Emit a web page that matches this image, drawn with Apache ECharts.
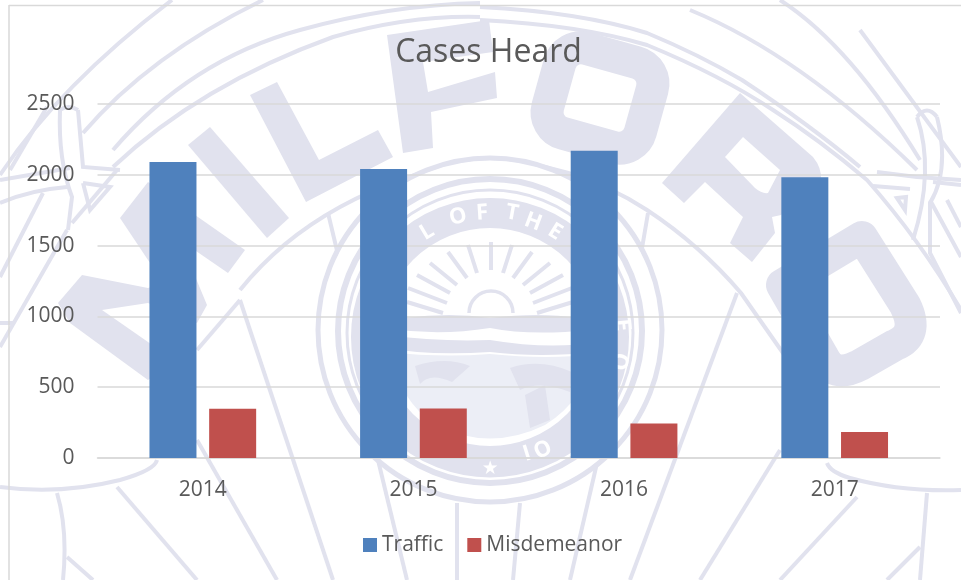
<!DOCTYPE html>
<html><head><meta charset="utf-8">
<style>html,body{margin:0;padding:0;background:#fff}#c{width:961px;height:580px}</style>
<script src="https://cdn.jsdelivr.net/npm/echarts@6/dist/echarts.min.js"></script>
</head><body><div id="c"></div>
<script>
const categories = ['2014','2015','2016','2017'];
const traffic = [2090,2041,2170,1982];
const misdemeanor = [348,350,244,184];
const yTicks = [0,500,1000,1500,2000,2500];

// Decorative watermark (badge behind the chart), not data
const WM = '#e1e2ee';
const wmLines = [
 // upper-left arcs
 'M0 175 Q60 85 172 0','M47 107 L10 170','M83 133 Q150 55 263 0','M113 150 Q190 60 300 30 Q390 5 480 3','M113 167 Q200 85 333 37 Q410 15 480 17',
 // upper-right arcs
 'M480 7 Q580 12 647 33 Q700 55 742 80 Q810 125 860 167','M480 20 Q580 25 647 45 Q720 75 773 110 Q820 140 867 180 Q920 240 961 310','M690 10 Q800 55 917 170','M780 0 Q850 45 920 160','M860 30 L961 167',
 // left knots
 'M60 110 Q58 160 72 197 L68 230','M78 110 L83 167 L120 170','M83 183 L110 187 L90 210 L83 183','M0 180 L70 168','M0 203 Q30 190 67 187','M43 193 L0 277','M67 230 L0 347','M117 170 L72 223','M60 110 Q68 104 78 110','M0 323 L15 323',
 // lower-left
 'M240 300 L333 580','M197 350 L240 300','M197 440 L277 580','M117 487 L197 580','M57 493 Q68 530 63 580','M67 557 L93 580','M378 460 L407 580','M457 503 L457 580',
 'M157 460 Q155 470 120 480 Q60 495 0 487',
 // inner arc over the seal
 'M240 290 Q320 190 480 158','M480 160 Q570 160 647 210 Q700 245 741 293 L797 373','M328 213 L340 263','M648 213 L640 260',
 // lower-right
 'M737 293 L630 580','M780 450 L700 580','M827 463 Q830 472 850 478 Q900 492 961 490','M857 497 L780 580','M927 493 L920 580','M920 547 L887 580','M597 463 L570 580','M520 503 L513 580',
 // right knot
 'M917 117 Q935 170 913 240','M937 117 Q950 170 930 203 L930 253 L961 313','M917 117 Q927 104 937 117','M877 172 L917 177 L961 180','M873 186 L910 189','M933 182 L961 185','M930 200 L961 257','M947 200 L961 227','M897 198 L906 197 L905 210 Z'
];
const wmLetters = [
 'M120 218 L148 182 L245 250 L228 273 L180 240 L207 305 L197 323 L148 303 L102 310 L148 342 L175 362 L148 380 L70 323 L58 303 L82 275 L148 288 L165 282 L148 260 Z',
 'M188 145 L210 127 L289 218 L267 238 Z',
 'M250 95 L277 82 L319 160 L378 130 L393 157 L306 202 Z',
 'M387 35 L489 20 L493 52 L423 62 L428 92 L495 72 L497 98 L431 112 L433 148 L403 153 Z',
 'M740 93 L813 157 Q822 168 821 180 L781 215 L772 217 L775 233 L752 262 L730 243 L743 217 L705 182 L684 203 L662 183 Z'
];
const wmCounterR = 'M743 137 L780 170 L768 193 Q762 194 755 188 L725 157 Z';
const wmStrokedD = 'M782 285 L862 237 L905 305 Q920 335 895 345 L860 365 Q835 378 825 360 Z';
const wmRings = [[490,330,172,5],[490,331,152,6],[490,333,143,3],[490,337,124,30]];
const wmRays = ['M491 242 L491 270','M468 245 L477 273','M448 252 L467 278','M430 263 L457 285','M417 275 L450 293','M408 288 L447 303','M407 302 L443 313',
                'M512 245 L503 273','M532 252 L513 278','M550 263 L523 285','M563 275 L530 293','M572 288 L533 303','M573 302 L537 313'];
const wmSun = 'M469 313 A22 22 0 0 1 513 313';
const wmHorizon = 'M405 318 Q450 312 490 318 Q540 312 578 318 L590 330 Q530 336 490 328 Q440 336 392 329 Z';
const wmWater = 'M384 335 Q440 342 490 340 Q550 350 598 342 L596 352 Q540 358 490 352 Q430 356 386 348 Z';
const wmLand = 'M388 352 Q440 358 490 354 Q550 360 594 354 Q585 400 545 425 Q490 452 435 425 Q400 400 388 352 Z';
const wmPatches = ['M510 368 Q540 358 572 372 L570 392 Q540 380 520 390 Z','M415 366 Q445 356 470 366 L452 382 Q430 372 420 384 Z','M525 395 L545 385 L550 420 L530 428 Z'];
const wmSealText = [['L',427,232],['O',458,217],['F',482,213],['T',512,213],['H',533,222],['E',555,232],['E',622,325],['O',622,362],['O',543,450],['I',527,454],['★',490,468]];
const font='"Open Sans"';

let shapeCount = 0;
function pathEl(d, style){
  const name = 'wmShape' + (shapeCount++);
  echarts.graphic.registerShape(name, echarts.graphic.extendPath(d, {}));
  return {type:name, z:-5, silent:true, style};
}
const graphicEls = [];
wmLetters.forEach(d=>graphicEls.push(pathEl(d,{fill:WM})));
graphicEls.push(pathEl(wmCounterR,{fill:'#fff'}));
graphicEls.push(pathEl(wmStrokedD,{fill:'none',stroke:WM,lineWidth:32,lineJoin:'round'}));
wmLines.forEach(d=>graphicEls.push(pathEl(d,{fill:'none',stroke:WM,lineWidth:4})));
graphicEls.push({type:'rect',z:-5,silent:true,x:552,y:54,rotation:-0.27,originX:48,originY:44,shape:{x:0,y:0,width:96,height:88,r:22},style:{fill:'none',stroke:WM,lineWidth:33}});
graphicEls.push({type:'circle',z:-5,silent:true,shape:{cx:490,cy:330,r:170},style:{fill:'#fff'}});
wmRings.forEach(r=>graphicEls.push({type:'circle',z:-5,silent:true,shape:{cx:r[0],cy:r[1],r:r[2]},style:{fill:'none',stroke:WM,lineWidth:r[3]}}));
wmRays.forEach(d=>graphicEls.push(pathEl(d,{fill:'none',stroke:WM,lineWidth:4})));
graphicEls.push(pathEl(wmSun,{fill:'none',stroke:WM,lineWidth:3.5}));
graphicEls.push(pathEl(wmHorizon,{fill:WM}));
graphicEls.push(pathEl(wmWater,{fill:WM}));
graphicEls.push(pathEl(wmLand,{fill:'#eceef6'}));
wmPatches.forEach(d=>graphicEls.push(pathEl(d,{fill:WM})));
wmSealText.forEach(t=>graphicEls.push({type:'text',z:-4,silent:true,x:t[1],y:t[2],
  rotation:-Math.atan2(t[1]-490,337-t[2])+(t[2]>337?Math.PI:0),
  style:{text:t[0],fill:'#fff',fontFamily:font,fontWeight:'bold',fontSize:t[0]==='★'?16:22,align:'center',verticalAlign:'middle'}}));
graphicEls.push({type:'line',z:-1,silent:true,shape:{x1:9,y1:5.5,x2:961,y2:5.5},style:{stroke:'#d9d9d9',lineWidth:1.5}});
graphicEls.push({type:'line',z:-1,silent:true,shape:{x1:9,y1:5,x2:9,y2:580},style:{stroke:'#d9d9d9',lineWidth:1.5}});

const chart=echarts.init(document.getElementById('c'),null,{renderer:'canvas'});
chart.setOption({
 animation:false,
 backgroundColor:'#fff',
 graphic:{elements:graphicEls},
 title:{text:'Cases Heard',left:483.5,top:31.5,textAlign:'center',textStyle:{fontFamily:font,fontSize:32,fontWeight:'normal',color:'#595959'}},
 legend:{left:358,top:529.5,itemWidth:14,itemHeight:14,itemGap:24,icon:'rect',textStyle:{fontFamily:font,fontSize:21,color:'#595959'},data:['Traffic','Misdemeanor']},
 grid:{left:97.5,right:21,top:104,bottom:122},
 xAxis:{type:'category',data:categories,axisTick:{show:false},axisLine:{lineStyle:{color:'#d9d9d9',width:1.5}},axisLabel:{fontFamily:font,fontSize:21,color:'#595959',margin:21.5}},
 yAxis:{type:'value',min:yTicks[0],max:yTicks[yTicks.length-1],interval:yTicks[1]-yTicks[0],axisLine:{show:false},axisTick:{show:false},splitLine:{lineStyle:{color:'#d9d9d9',width:1.5}},axisLabel:{fontFamily:font,fontSize:21,color:'#595959',margin:23,formatter:v=>String(v)}},
 series:[
  {name:'Traffic',type:'bar',data:traffic,barWidth:47,barGap:'27%',itemStyle:{color:'#4f81bd'}},
  {name:'Misdemeanor',type:'bar',data:misdemeanor,barWidth:47,itemStyle:{color:'#c0504d'}}
 ]
});
</script></body></html>
